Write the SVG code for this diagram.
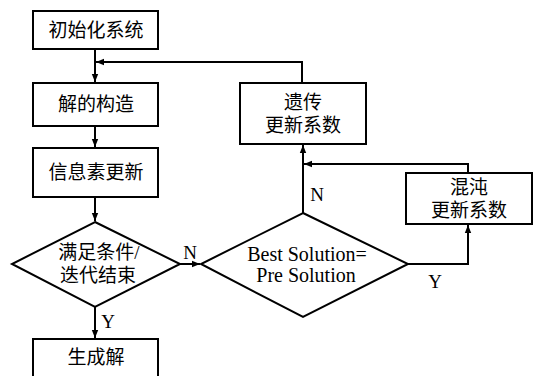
<svg xmlns="http://www.w3.org/2000/svg" width="539" height="376" viewBox="0 0 539 376">
<defs>
<marker id="ah" viewBox="0 0 10 10" refX="10" refY="5" markerWidth="8" markerHeight="8" markerUnits="userSpaceOnUse" orient="auto">
<path d="M0,1 L10,5 L0,9 Z" fill="#000"/>
</marker>
</defs>
<style>
.box{fill:#fff;stroke:#000;stroke-width:2}
.ln{fill:none;stroke:#000;stroke-width:2}
.t{font-family:"Liberation Serif","Noto Sans CJK SC",serif;font-size:19px;fill:#000;text-anchor:middle}
.e{font-family:"Liberation Serif","Noto Sans CJK SC",serif;font-size:20px;fill:#000;text-anchor:middle}
.l{font-family:"Liberation Serif",serif;font-size:19px;fill:#000;text-anchor:middle}
</style>
<rect width="539" height="376" fill="#fff"/>
<g id="connectors">
<path class="ln" d="M95,49 V82" marker-end="url(#ah)"/>
<path class="ln" d="M302,83 V62 H96" marker-end="url(#ah)"/>
<path class="ln" d="M95,126 V147" marker-end="url(#ah)"/>
<path class="ln" d="M95,197 V221" marker-end="url(#ah)"/>
<path class="ln" d="M180,264 H200" marker-end="url(#ah)"/>
<path class="ln" d="M95,307 V338" marker-end="url(#ah)"/>
<path class="ln" d="M303,213 V145" marker-end="url(#ah)"/>
<path class="ln" d="M468,173 V164 H304" marker-end="url(#ah)"/>
<path class="ln" d="M408,264 H468 V225" marker-end="url(#ah)"/>
<text class="l" x="190" y="259">N</text>
<text class="l" x="108" y="328">Y</text>
<text class="l" x="317" y="201">N</text>
<text class="l" x="435" y="288">Y</text>
</g>
<g id="n1">
<rect class="box" x="33" y="11" width="125" height="38"/>
<text class="t" x="96" y="37">初始化系统</text>
</g>
<g id="n2">
<rect class="box" x="33" y="83" width="125" height="43"/>
<text class="t" x="96" y="111">解的构造</text>
</g>
<g id="n3">
<rect class="box" x="33" y="148" width="125" height="49"/>
<text class="t" x="96" y="179">信息素更新</text>
</g>
<g id="d1">
<polygon class="box" points="95,222 180,264 95,307 12,264"/>
<text class="t" x="99" y="259">满足条件/</text>
<text class="t" x="98" y="282">迭代结束</text>
</g>
<g id="n4">
<rect class="box" x="33" y="339" width="125" height="45"/>
<text class="t" x="96" y="364">生成解</text>
</g>
<g id="d2">
<polygon class="box" points="303,213 408,264 303,317 201,264"/>
<text class="e" x="307" y="261">Best Solution=</text>
<text class="e" x="306" y="282">Pre Solution</text>
</g>
<g id="n5">
<rect class="box" x="240" y="83" width="126" height="61"/>
<text class="t" x="303" y="109">遗传</text>
<text class="t" x="303" y="132">更新系数</text>
</g>
<g id="n6">
<rect class="box" x="406" y="173" width="126" height="51"/>
<text class="t" x="469" y="194">混沌</text>
<text class="t" x="469" y="217">更新系数</text>
</g>
</svg>
